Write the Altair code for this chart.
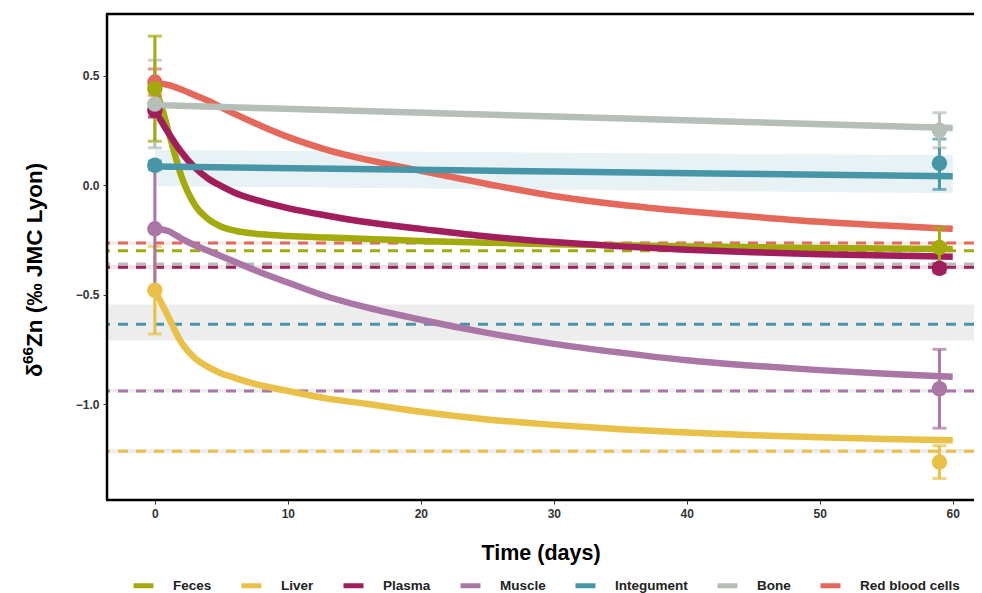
import altair as alt
import pandas as pd

# ---------------- data ----------------
series = ["Feces", "Liver", "Plasma", "Muscle", "Integument", "Bone", "Red blood cells"]
colors = ["#a3aa0b", "#e9c048", "#a21d5b", "#aa76a6", "#4796a8", "#b5bfb8", "#e5695b"]

# model curves (days, delta66Zn)
t_curve = [0, 0.5, 1, 2, 3, 4, 5, 6, 8, 10, 13, 16, 20, 25, 30, 35, 40, 45, 50, 55, 60]
feces_curve = [0.44, 0.36, 0.25, 0.04, -0.09, -0.155, -0.19, -0.208, -0.225, -0.233, -0.24,
               -0.246, -0.255, -0.263, -0.27, -0.275, -0.28, -0.284, -0.287, -0.29, -0.292]
liver_curve = [-0.48, -0.54, -0.6, -0.72, -0.79, -0.83, -0.86, -0.88, -0.915, -0.94, -0.975,
               -1.0, -1.035, -1.07, -1.095, -1.115, -1.13, -1.142, -1.152, -1.16, -1.165]
plasma_curve = [0.34, 0.29, 0.24, 0.15, 0.08, 0.03, -0.005, -0.035, -0.075, -0.105, -0.14,
                -0.17, -0.2, -0.235, -0.26, -0.28, -0.295, -0.307, -0.316, -0.322, -0.327]
muscle_curve = [-0.2, -0.203, -0.21, -0.245, -0.275, -0.3, -0.325, -0.35, -0.4, -0.445, -0.51,
                -0.56, -0.615, -0.675, -0.725, -0.765, -0.8, -0.825, -0.845, -0.862, -0.875]
rbc_curve = [0.465, 0.462, 0.457, 0.436, 0.41, 0.385, 0.355, 0.325, 0.27, 0.22, 0.16,
             0.115, 0.065, 0.005, -0.05, -0.09, -0.12, -0.145, -0.168, -0.185, -0.2]
t_linear = [0, 30, 60]
integument_curve = [0.085, 0.062, 0.04]
bone_curve = [0.365, 0.313, 0.26]

# integument model uncertainty band
integ_band_lo = [-0.005, -0.021, -0.037]
integ_band_hi = [0.16, 0.148, 0.137]

# measured values: t=0 and t=59
obs_series = ["Red blood cells", "Plasma", "Liver", "Muscle", "Integument", "Bone", "Feces",
              "Plasma", "Liver", "Muscle", "Integument", "Bone", "Feces"]
obs_t = [0, 0, 0, 0, 0, 0, 0, 59, 59, 59, 59, 59, 59]
obs_val = [0.47, 0.34, -0.48, -0.2, 0.09, 0.37, 0.44,
           -0.38, -1.265, -0.93, 0.10, 0.25, -0.285]
obs_lo = [0.41, 0.31, -0.68, -0.48, 0.07, 0.17, 0.20,
          -0.40, -1.34, -1.11, -0.02, 0.17, -0.37]
obs_hi = [0.53, 0.37, -0.28, 0.08, 0.11, 0.57, 0.68,
          -0.36, -1.19, -0.75, 0.21, 0.33, -0.195]

# reference (dashed) levels and their bands
ref_series = ["Red blood cells", "Feces", "Bone", "Plasma", "Integument", "Muscle", "Liver"]
ref_level = [-0.265, -0.30, -0.36, -0.375, -0.635, -0.94, -1.215]
band_lo = [-0.272, -0.30, -0.36, -0.384, -0.71, -0.947, -1.225]
band_hi = [-0.258, -0.30, -0.36, -0.365, -0.545, -0.93, -1.205]
band_fill = ["#ededed", "#ffffff", "#ffffff", "#eee3e8", "#ededed", "#ededed", "#ededed"]

# y-axis title pieces: delta, superscript mass number, rest
ytitle_delta = "δ"
ytitle_sup = "66"
ytitle_rest = "Zn (‰ JMC Lyon)"

# ---------------- tables ----------------
rows = []
for name, vals in [("Feces", feces_curve), ("Liver", liver_curve), ("Muscle", muscle_curve),
                   ("Plasma", plasma_curve), ("Red blood cells", rbc_curve)]:
    for t, v in zip(t_curve, vals):
        rows.append({"series": name, "t": t, "v": v})
for name, vals in [("Integument", integument_curve), ("Bone", bone_curve)]:
    for t, v in zip(t_linear, vals):
        rows.append({"series": name, "t": t, "v": v})
curves = pd.DataFrame(rows)
order_map = {"Feces": 0, "Liver": 1, "Muscle": 2, "Integument": 3, "Bone": 4, "Plasma": 5, "Red blood cells": 6}
curves["ord"] = curves["series"].map(order_map)

integ_band = pd.DataFrame({"t": t_linear, "lo": integ_band_lo, "hi": integ_band_hi})
obs = pd.DataFrame({"series": obs_series, "t": obs_t, "v": obs_val, "lo": obs_lo, "hi": obs_hi})
obs["k"] = range(len(obs))
refs = pd.DataFrame({"series": ref_series, "level": ref_level, "lo": band_lo, "hi": band_hi,
                     "fill": band_fill})
frame = pd.DataFrame({"a": [0]})

W, H = 867, 486
xs = alt.Scale(domain=[-3.6, 61.6], nice=False, zero=False)
ys = alt.Scale(domain=[-1.438, 0.781], nice=False, zero=False)
cs = alt.Scale(domain=series, range=colors)

FONT = "Liberation Sans"

x_axis = alt.Axis(title="Time (days)", values=[0, 10, 20, 30, 40, 50, 60], grid=False,
                  domain=False, tickColor="#333333", tickSize=4, labelFont=FONT,
                  labelFontSize=12, labelFontWeight="bold", labelColor="#333333",
                  labelPadding=4, titleFont=FONT, titleFontSize=21.5, titleFontWeight="bold",
                  titleColor="#000000", titlePadding=23)
y_axis = alt.Axis(title=None, values=[-1.0, -0.5, 0.0, 0.5], format=".1f",
                  grid=False, domain=False, tickColor="#333333", tickSize=4, labelFont=FONT,
                  labelFontSize=12, labelFontWeight="bold", labelColor="#333333",
                  labelPadding=4)

leg = alt.Legend(title=None, orient="none", direction="horizontal",
                 legendX=24, legendY=559, symbolType="stroke",
                 symbolSize=400, symbolStrokeWidth=5, symbolOpacity=1, labelFont=FONT,
                 labelFontSize=13.5, labelFontWeight="bold",
                 labelColor="#222222", labelOffset=17, columnPadding=19)

bands = alt.Chart(refs).mark_rect().encode(
    x=alt.value(0), x2=alt.value(W),
    y=alt.Y("lo:Q", scale=ys, axis=y_axis), y2="hi:Q",
    fill=alt.Fill("fill:N", scale=None),
)

integ_area = alt.Chart(integ_band).mark_area(color="#e8f2f4").encode(
    x=alt.X("t:Q", scale=xs, axis=x_axis),
    y=alt.Y("lo:Q", scale=ys), y2="hi:Q",
)

dashes = alt.Chart(refs).mark_rule(strokeDash=[10, 8], strokeWidth=3).encode(
    y=alt.Y("level:Q", scale=ys),
    color=alt.Color("series:N", scale=cs, legend=leg),
)

lines = alt.Chart(curves).mark_line(strokeWidth=6.5, interpolate="monotone", strokeCap="butt").encode(
    x=alt.X("t:Q", scale=xs),
    y=alt.Y("v:Q", scale=ys),
    color=alt.Color("series:N", scale=cs, legend=leg),
    detail="ord:N",
    order="t:Q",
)

errs = alt.Chart(obs).mark_errorbar(ticks=True, size=14, thickness=3).encode(
    x=alt.X("t:Q", scale=xs),
    y=alt.Y("lo:Q", scale=ys, title=""), y2="hi:Q",
    color=alt.Color("series:N", scale=cs, legend=leg),
)

pts = alt.Chart(obs).mark_circle(size=240, opacity=1).encode(
    x=alt.X("t:Q", scale=xs),
    y=alt.Y("v:Q", scale=ys),
    color=alt.Color("series:N", scale=cs, legend=leg),
    order="k:Q",
)

# frame: left, top and bottom edges (right edge lies outside the picture)
f_left = alt.Chart(frame).mark_rule(color="#000000", strokeWidth=2.5).encode(
    x=alt.value(0), y=alt.value(0), y2=alt.value(H))
f_top = alt.Chart(frame).mark_rule(color="#000000", strokeWidth=2.5).encode(
    x=alt.value(-1), x2=alt.value(W), y=alt.value(0))
f_bot = alt.Chart(frame).mark_rule(color="#000000", strokeWidth=2.5).encode(
    x=alt.value(-1), x2=alt.value(W), y=alt.value(H))

# y-axis title built from three rotated text pieces (for the large superscript)
ttl_kw = dict(angle=270, align="left", baseline="alphabetic", font=FONT, fontWeight="bold",
              color="#000000")
t_delta = alt.Chart(frame).mark_text(fontSize=22, **ttl_kw).encode(
    x=alt.value(-65), y=alt.value(363), text=alt.value(ytitle_delta))
t_sup = alt.Chart(frame).mark_text(fontSize=15.5, **ttl_kw).encode(
    x=alt.value(-74), y=alt.value(350), text=alt.value(ytitle_sup))
t_rest = alt.Chart(frame).mark_text(fontSize=22.5, **ttl_kw).encode(
    x=alt.value(-65), y=alt.value(333), text=alt.value(ytitle_rest))

chart = alt.layer(bands, integ_area, dashes, lines, errs, pts, f_left, f_top, f_bot,
                  t_delta, t_sup, t_rest).properties(
    width=W, height=H,
    background="white",
    autosize=alt.AutoSizeParams(type="none"),
    padding={"left": 99, "top": 6, "right": 0, "bottom": 93},
).configure_view(stroke=None)

chart.save("out.html", embed_options={"renderer": "svg", "actions": False})
